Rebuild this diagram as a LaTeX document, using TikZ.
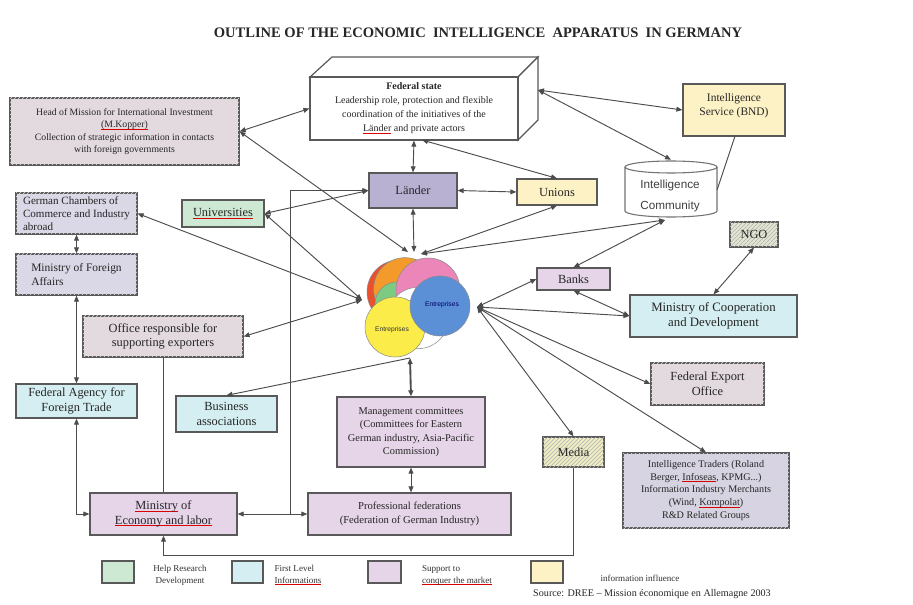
\documentclass[tikz,border=0pt]{standalone}
\usepackage{fontspec}
\setmainfont{Liberation Serif}
\newfontfamily\arialf{Liberation Sans}
\usetikzlibrary{arrows.meta,patterns,fit}
\definecolor{lilac}{HTML}{E6D4E8}
\definecolor{lav}{HTML}{DAD6EA}
\definecolor{pinkg}{HTML}{E4D8DE}
\definecolor{cyanl}{HTML}{D4EEF1}
\definecolor{yell}{HTML}{FDF2C6}
\definecolor{greenl}{HTML}{CDE8D3}
\definecolor{landc}{HTML}{B8B1D2}
\definecolor{mediac}{HTML}{EEEDC4}
\definecolor{ngoc}{HTML}{E4E6D2}
\definecolor{itc}{HTML}{D6D2E6}
\definecolor{cred}{HTML}{E8502E}
\definecolor{corange}{HTML}{F39A2A}
\definecolor{cgreen}{HTML}{7DCB82}
\definecolor{cpink}{HTML}{EC86B8}
\definecolor{cyellow}{HTML}{FBEC4A}
\definecolor{cblue}{HTML}{5B8FD6}
\newsavebox\rulbox
\newcommand\rul[1]{\leavevmode\sbox\rulbox{#1}\rlap{\color{red!85!black}\rule[-1.3pt]{\wd\rulbox}{0.45pt}}\usebox\rulbox}
\newcommand\fa{\fontsize{7.3}{9.2}\selectfont}
\newcommand\fab{\fontsize{7.5}{10.5}\selectfont}
\newcommand\fb{\fontsize{8.6}{10}\selectfont}
\newcommand\fc{\fontsize{9.3}{11}\selectfont}
\newcommand\fd{\fontsize{6.8}{9}\selectfont}
% box from corners (pixel units): \bx[options]{name}{x1}{y1}{x2}{y2}{text}
\newcommand\bx[7][]{\node[box,#1,minimum width={(#5-#3)*0.75pt},minimum height={(#6-#4)*0.75pt}] (#2) at ({(#3+#5)/2},{(#4+#6)/2}) {#7};}
\begin{document}
\begin{tikzpicture}[x=0.75pt,y=-0.75pt,
  >={Triangle[length=4.5pt,width=3.6pt]},
  box/.style={draw=black!65, line width=0.9pt, inner sep=0pt, align=center, font=\fb, text=black!85},
  hatch/.style={postaction={pattern=north east lines, pattern color=#1}},
  conn/.style={draw=black!70, line width=0.7pt},
  cyl/.style={draw=black!55, line width=0.8pt},
  circ/.style={draw=black!45, line width=0.4pt},
]
\useasboundingbox (0,0) rectangle (913,605);
\fill[white] (0,0) rectangle (913,605);

% title
\node[font=\bfseries\fontsize{10.9}{12}\selectfont, text=black!85] (title) at (478,33)
  {OUTLINE OF THE ECONOMIC\ \ INTELLIGENCE\ \ APPARATUS\ \ IN GERMANY};

% federal state cuboid
\draw[draw=black!65, line width=0.9pt, fill=white] (310,77) -- (332,57) -- (538,57) -- (518,77) -- cycle;
\draw[draw=black!65, line width=0.9pt, fill=white] (518,77) -- (538,57) -- (538,120) -- (518,140) -- cycle;
\bx[fill=white, font=\fab]{fed}{310}{77}{518}{140}
  {\textbf{Federal state}\\ Leadership role, protection and flexible\\ coordination of the initiatives of the\\ \rul{Länder} and private actors}

% boxes
\bx[fill=pinkg, hatch=black!12, font=\fa]{hom}{10}{98}{239}{165}
  {Head of Mission for International Investment\\ \rul{(M.Kopper)}\\ Collection of strategic information in contacts\\ with foreign governments}
\bx[fill=yell, text depth=8pt]{bnd}{683}{84}{785}{136}{Intelligence\\ Service (BND)}
\bx[fill=ngoc, hatch=black!30, font=\fc]{ngo}{730}{222}{778}{247}{NGO}
\bx[fill=landc, font=\fc]{lander}{369}{173}{457}{208}{Länder}
\bx[fill=yell, font=\fc]{unions}{517}{179}{597}{205}{Unions}
\bx[fill=greenl, font=\fc]{univ}{182}{200}{264}{227}{\rul{Universities}}
\bx[fill=lav, hatch=black!12, align=left, font=\fontsize{8.3}{9.6}\selectfont]{cham}{16}{193}{137}{234}
  {German Chambers of\\ Commerce and Industry\\ abroad}
\bx[fill=lav, hatch=black!12, align=left]{mfa}{16}{254}{137}{295}{Ministry of Foreign\\ Affairs}
\bx[fill=pinkg, hatch=black!12, font=\fc]{office}{83}{316}{243}{357}{Office responsible for\\ supporting exporters}
\bx[fill=cyanl, font=\fc]{faft}{16}{384}{137}{418}{Federal Agency for\\ Foreign Trade}
\bx[fill=cyanl, font=\fc]{bus}{176}{396}{277}{432}{Business\\ associations}
\bx[fill=lilac, font=\fontsize{7.8}{10}\selectfont]{mgmt}{337}{397}{485}{467}
  {Management committees\\ (Committees for Eastern\\ German industry, Asia-Pacific\\ Commission)}
\bx[fill=lilac, font=\fontsize{8}{10}\selectfont]{prof}{308}{493}{511}{535}
  {Professional federations\\ (Federation of German Industry)}
\bx[fill=lilac, font=\fc]{mecon}{90}{493}{237}{535}{\rul{Ministry} of\\ \rul{Economy and labor}}
\bx[fill=mediac, hatch=black!30, font=\fc]{media}{543}{437}{604}{467}{Media}
\bx[fill=itc, hatch=black!15, font=\fontsize{7.6}{9.6}\selectfont]{it}{623}{453}{789}{528}
  {Intelligence Traders (Roland\\ Berger, \rul{Infoseas}, KPMG...)\\ Information Industry Merchants\\ (Wind, \rul{Kompolat})\\ R\&D Related Groups}
\bx[fill=lilac, font=\fc]{banks}{537}{268}{610}{290}{Banks}
\bx[fill=cyanl, font=\fontsize{9.6}{11.5}\selectfont]{moc}{630}{295}{797}{337}{Ministry of Cooperation\\ and Development}
\bx[fill=pinkg, hatch=black!12, font=\fc]{feo}{651}{363}{764}{405}{Federal Export\\ Office}

% intelligence community cylinder
\node[fit={(625,160)(717,217)}, inner sep=0pt] (ic) {};
\fill[white] (625,167) rectangle (717,211);
\draw[cyl] (625,167) -- (625,211) arc[start angle=180, end angle=360, x radius=34.5pt, y radius=4.5pt] -- (717,167);
\draw[cyl] (671,167) ellipse [x radius=34.5pt, y radius=4.5pt];
\node[font=\arialf\fontsize{8.8}{16}\selectfont, text=black!75, align=left] (ictext) at (670,196) {Intelligence\\ Community};

% enterprise cluster
\node[fit={(366,257)(470,358)}, inner sep=0pt] (ent) {};
\fill[cred, circ] (399,292) circle[radius=24pt];
\fill[corange, circ] (405,289) circle[radius=23.5pt];
\fill[cgreen, circ] (397,304) circle[radius=16.5pt];
\fill[cpink, circ] (428,290) circle[radius=24pt];
\fill[white, circ] (418,318) circle[radius=23pt];
\fill[cyellow, circ] (395,327) circle[radius=22.5pt];
\fill[cblue, circ] (440,306) circle[radius=22.5pt];
\node[font=\arialf\fontsize{5}{6}\selectfont, text=black!80] (e1) at (392,330) {Entreprises};
\node[font=\arialf\fontsize{5}{6}\selectfont, text=blue!40!black] (e2) at (442,305) {Entreprises};
\coordinate (ct1) at (408,252);
\coordinate (ct2) at (414,252);
\coordinate (ct3) at (421,254);
\coordinate (cl) at (362,300);
\coordinate (cr) at (477,307);
\coordinate (cb) at (410,358);
\coordinate (fedR) at (538,90);
\coordinate (fedS) at (422,140);
\coordinate (icb) at (665,220);
\coordinate (icr) at (717,190);
\coordinate (bnds) at (735,136);
\coordinate (j1) at (290,514);
\coordinate (mb) at (163.5,555);

% connectors
\draw[conn,<->] (hom.east) -- (fed.west);
\draw[conn,<->] (hom.east) -- (ct1);
\draw[conn,<->] (bnd.west) -- (fedR);
\draw[conn,<->] (ic.north) -- (fedR);
\draw[conn,<->] (fed.south) -- (lander.north);
\draw[conn,<->] (fedS) -- (unions.north);
\draw[conn,<->] (lander.east) -- (unions.west);
\draw[conn,<->] (lander.south) -- (ct2);
\draw[conn,<->] (unions.south) -- (ct3);
\draw[conn,<->] (univ.east) -- (lander.west);
\draw[conn,->] (j1) |- (lander.west);
\draw[conn,<->] (univ.east) -- (cl);
\draw[conn,<->] (cham.east) -- (cl);
\draw[conn,<->] (cham.south) -- (mfa.north);
\draw[conn,<->] (mfa.south) -- (faft.north);
\draw[conn,<->] (faft.south) |- (mecon.west);
\draw[conn] (office.south) -- (office.south |- mecon.north);
\draw[conn,<->] (office.east) -- (cl);
\draw[conn,->] (cb) -- (bus.north);
\draw[conn,<->, line width=1.4pt] (cb) -- (mgmt.north);
\draw[conn,<->] (mgmt.south) -- (mgmt.south |- prof.north);
\draw[conn,<->] (mecon.east) -- (prof.west);
\draw[conn,->] (media.south) |- (mb) -- (mecon.south);
\draw[conn,<->] (cr) -- (media.north);
\draw[conn,<->] (cr) -- (it.north);
\draw[conn,<->] (cr) -- (feo.west);
\draw[conn,<->] (cr) -- (moc.west);
\draw[conn,<->] (cr) -- (banks.west);
\draw[conn,<->] (banks.south) -- (moc.west);
\draw[conn,<->] (moc.north) -- (ngo.south);
\draw[conn,<->] (icb) -- (banks.north);
\draw[conn,<->] (icb) -- (ct3);
\draw[conn] (bnds) -- (icr);

% legend
\bx[fill=greenl]{lg1}{102}{561}{134}{583}{}
\node[font=\fd, align=center, text=black!80] (lt1) at (180,575) {Help Research\\ Development};
\bx[fill=cyanl]{lg2}{232}{561}{263}{583}{}
\node[font=\fd, align=left, text=black!80] (lt2) at (298,575) {First Level\\ \rul{Informations}};
\bx[fill=lilac]{lg3}{368}{561}{401}{583}{}
\node[font=\fd, align=left, text=black!80] (lt3) at (457,575) {Support to\\ \rul{conquer the market}};
\bx[fill=yell]{lg4}{531}{561}{563}{583}{}
\node[font=\fd, text=black!80] (lt4) at (640,578) {information influence};
\node[font=\fontsize{7.6}{8.5}\selectfont, text=black!85] (src) at (652,594) {Source: DREE -- Mission économique en Allemagne 2003};
\end{tikzpicture}
\end{document}
